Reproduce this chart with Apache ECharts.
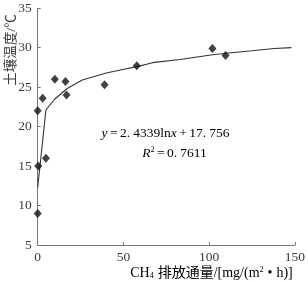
<!DOCTYPE html>
<html><head><meta charset="utf-8">
<script src="https://cdn.jsdelivr.net/npm/echarts@6/dist/echarts.min.js"></script>
<style>html,body{margin:0;padding:0;background:#fff}#c{width:308px;height:282px}</style>
</head><body><div id="c"></div>
<script>
// Measured points: [CH4 flux, soil temperature]
const fluxValues = [0, 2.9, 0.3, 4.8, 0, 10, 16.2, 16.8, 39, 57.8, 101.9, 109.6];
const tempValues = [22.0, 23.6, 15.0, 16.0, 9.0, 26.0, 25.7, 24.0, 25.3, 27.7, 29.9, 29.0];
// Fitted curve
const fitX = [0, 4.8, 10, 17, 26, 40, 51, 58, 67, 83, 102, 110, 125, 138, 148];
const fitY = [12.3, 22.1, 23.5, 24.8, 25.9, 26.8, 27.3, 27.6, 28.1, 28.5, 29.1, 29.3, 29.6, 29.9, 30.0];
const xTicks = [0, 50, 100, 150];
const yTicks = [5, 10, 15, 20, 25, 30, 35];
// [style, text] tokens
const equationTokens = [['i', 'y'], ['op', '='], ['d', '2.'], ['n', '4339ln'], ['i', 'x'], ['op', '+'], ['d', '17.'], ['n', '756']];
const r2Tokens = [['i', 'R'], ['sup', '2'], ['op', '='], ['d', '0.'], ['n', '7611']];
const xNameTokens = [['n', 'CH'], ['sub', '4'], ['c', '排放通量'], ['n', '/[mg/(m'], ['sup', '2'], ['dot', '•'], ['n', 'h)]']];
const yNameText = '土壤温度/℃';

const serif = '"Liberation Serif","DejaVu Serif",serif';
const cjk = '"Liberation Serif","Noto Sans CJK SC",serif';
const textColor = '#3a3a3a';
const axisColor = '#777';

const rich = (tokens) => tokens.map(t => '{' + t[0] + '|' + t[1] + '}').join('');
const mathRich = {
  i: {fontFamily: serif, fontStyle: 'italic', fontSize: 13.5, color: textColor},
  n: {fontFamily: serif, fontSize: 13.5, color: textColor},
  d: {fontFamily: serif, fontSize: 13.5, color: textColor, padding: [0, 3, 0, 0]},
  op: {fontFamily: serif, fontSize: 13.5, color: textColor, padding: [0, 2.5, 0, 2.5]},
  sup: {fontFamily: serif, fontSize: 8, color: textColor, padding: [0, 0, 6, 0]}
};

const chart = echarts.init(document.getElementById('c'));
chart.setOption({
  animation: false,
  grid: {left: 37.7, right: 10.7, top: 8.2, bottom: 37},
  xAxis: {
    type: 'value', min: xTicks[0], max: xTicks[xTicks.length - 1], interval: 50,
    axisLine: {show: true, lineStyle: {color: axisColor, width: 1}},
    axisTick: {show: true, inside: true, length: 3, lineStyle: {color: axisColor}},
    splitLine: {show: false},
    axisLabel: {color: textColor, fontFamily: serif, fontSize: 13.5, margin: 5}
  },
  yAxis: {
    type: 'value', min: yTicks[0], max: yTicks[yTicks.length - 1], interval: 5,
    axisLine: {show: true, lineStyle: {color: axisColor, width: 1}},
    axisTick: {show: true, inside: true, length: 3, lineStyle: {color: axisColor}},
    splitLine: {show: false},
    axisLabel: {color: textColor, fontFamily: serif, fontSize: 13.5, margin: 6}
  },
  series: [
    {
      type: 'line', data: fitX.map((x, i) => [x, fitY[i]]), showSymbol: false, smooth: false,
      lineStyle: {color: '#333', width: 1.1}, z: 2
    },
    {
      type: 'scatter', data: fluxValues.map((x, i) => [x, tempValues[i]]),
      symbol: 'diamond', symbolSize: [8, 9], itemStyle: {color: '#111'}, z: 3
    }
  ],
  graphic: [
    {
      type: 'text', x: 11, y: 50, rotation: Math.PI / 2,
      style: {text: yNameText, font: '13.5px ' + cjk, fill: textColor, align: 'center', verticalAlign: 'middle'}
    },
    {
      type: 'text', x: 211.5, y: 273,
      style: {
        text: rich(xNameTokens),
        align: 'center', verticalAlign: 'middle',
        rich: {
          n: {fontFamily: serif, fontSize: 14, color: textColor},
          c: {fontFamily: cjk, fontSize: 14, color: textColor, padding: [0, 0, 0, 4]},
          dot: {fontFamily: serif, fontSize: 14, color: textColor, padding: [0, 4, 0, 4]},
          sub: {fontFamily: serif, fontSize: 8, color: textColor, padding: [6, 0, 0, 0]},
          sup: {fontFamily: serif, fontSize: 8, color: textColor, padding: [0, 0, 6, 0]}
        }
      }
    },
    {
      type: 'text', x: 165.5, y: 133,
      style: {text: rich(equationTokens), align: 'center', verticalAlign: 'middle', rich: mathRich}
    },
    {
      type: 'text', x: 174.5, y: 153,
      style: {text: rich(r2Tokens), align: 'center', verticalAlign: 'middle', rich: mathRich}
    }
  ]
});
</script></body></html>
